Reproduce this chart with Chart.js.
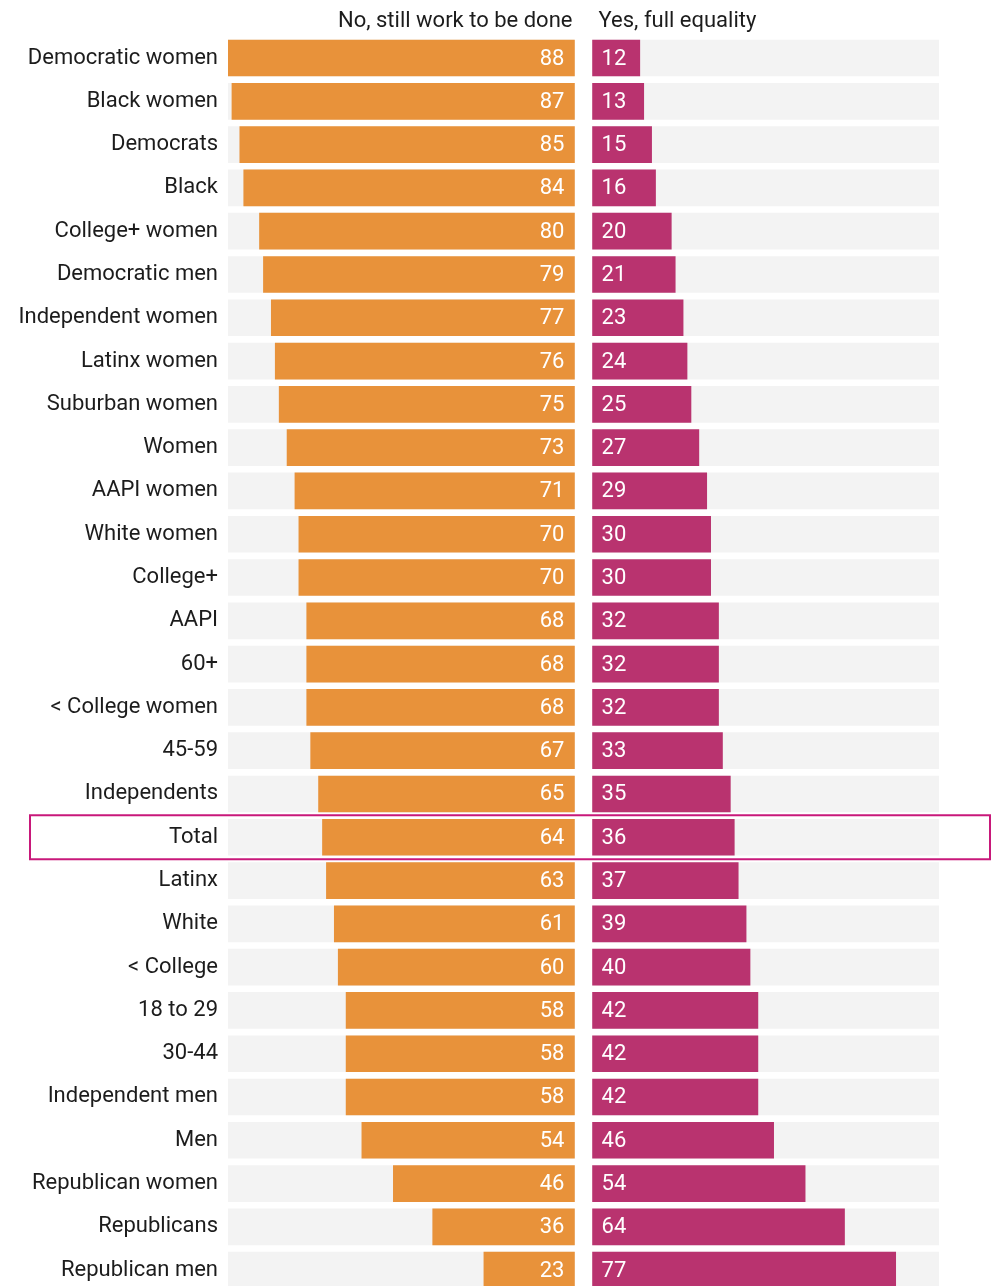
<!DOCTYPE html>
<html>
<head>
<meta charset="utf-8">
<script src="https://cdn.jsdelivr.net/npm/chart.js@4.4.1/dist/chart.umd.min.js"></script>
<style>
  html, body { margin: 0; padding: 0; background: #fff; overflow: hidden; }
  #wrap { width: 1005px; height: 1300px; }
</style>
</head>
<body>
<div id="wrap"><canvas id="chart" width="1005" height="1300"></canvas></div>
<script>
// data
const groups = ['Democratic women', 'Black women', 'Democrats', 'Black', 'College+ women',
    'Democratic men', 'Independent women', 'Latinx women', 'Suburban women', 'Women',
    'AAPI women', 'White women', 'College+', 'AAPI', '60+', '< College women', '45-59',
    'Independents', 'Total', 'Latinx', 'White', '< College', '18 to 29', '30-44',
    'Independent men', 'Men', 'Republican women', 'Republicans', 'Republican men'];
const stillWork = [88, 87, 85, 84, 80, 79, 77, 76, 75, 73, 71, 70, 70, 68, 68, 68, 67,
    65, 64, 63, 61, 60, 58, 58, 58, 54, 46, 36, 23];
const fullEquality = [12, 13, 15, 16, 20, 21, 23, 24, 25, 27, 29, 30, 30, 32, 32, 32, 33,
    35, 36, 37, 39, 40, 42, 42, 42, 46, 54, 64, 77];
const headers = ['No, still work to be done', 'Yes, full equality'];
const highlight = 'Total';

const FONT = 'Roboto, "Noto Sans", sans-serif';
const ORANGE = '#e8923a';
const PINK = '#b9336f';
const GREY = '#f3f3f3';
const INK = '#1c1c1c';

// both panels run 0..max, a small gap sits between them around zero
const maxVal = Math.max(...stillWork, ...fullEquality);
const half = 2.3;

const leftBars = stillWork.map(v => [-half - v, -half]);
const rightBars = fullEquality.map(v => [half, half + v]);
const leftBg = groups.map(() => [-half - maxVal, -half]);
const rightBg = groups.map(() => [half, half + maxVal]);

const extras = {
    id: 'extras',
    afterDatasetsDraw(chart) {
        const ctx = chart.ctx;
        const x = chart.scales.x;
        const y = chart.scales.y;
        ctx.save();
        ctx.font = '22px ' + FONT;
        ctx.textBaseline = 'middle';
        ctx.fillStyle = '#fff';
        groups.forEach((g, i) => {
            const cy = y.getPixelForValue(i) + 1;
            ctx.textAlign = 'right';
            ctx.fillText(String(stillWork[i]), x.getPixelForValue(-half) - 10, cy);
            ctx.textAlign = 'left';
            ctx.fillText(String(fullEquality[i]), x.getPixelForValue(half) + 9, cy);
        });

        // column headers
        ctx.fillStyle = INK;
        ctx.textAlign = 'right';
        ctx.fillText(headers[0], x.getPixelForValue(-half) - 2, 21);
        ctx.textAlign = 'left';
        ctx.fillText(headers[1], x.getPixelForValue(half) + 6, 21);

        // box around the total row
        const hi = groups.indexOf(highlight);
        const hy = y.getPixelForValue(hi);
        ctx.strokeStyle = '#c8187a';
        ctx.lineWidth = 2;
        ctx.strokeRect(30, hy - 22, 960, 44);
        ctx.restore();
    }
};

new Chart(document.getElementById('chart').getContext('2d'), {
    type: 'bar',
    data: {
        labels: groups,
        datasets: [
            { data: leftBars, backgroundColor: ORANGE, grouped: false, barThickness: 36 },
            { data: rightBars, backgroundColor: PINK, grouped: false, barThickness: 36 },
            { data: leftBg, backgroundColor: GREY, grouped: false, barThickness: 36 },
            { data: rightBg, backgroundColor: GREY, grouped: false, barThickness: 36 }
        ]
    },
    options: {
        indexAxis: 'y',
        responsive: false,
        animation: false,
        layout: { padding: { top: 36.4, bottom: 8.2, left: 0, right: 66 } },
        plugins: {
            legend: { display: false },
            tooltip: { enabled: false }
        },
        scales: {
            x: {
                display: false,
                min: -half - maxVal,
                max: half + maxVal
            },
            y: {
                grid: { display: false, drawTicks: false },
                border: { display: false },
                ticks: {
                    color: INK,
                    padding: 10,
                    font: { family: FONT, size: 22 },
                    autoSkip: false
                },
                afterFit(scale) {
                    scale.width = 228;
                    scale.paddingTop = 0;
                    scale.paddingBottom = 0;
                }
            }
        }
    },
    plugins: [extras]
});
</script>
</body>
</html>
